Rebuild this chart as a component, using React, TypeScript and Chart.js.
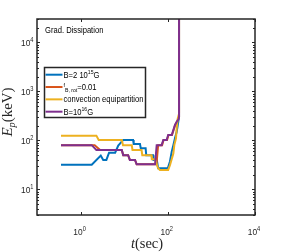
import React, { useEffect, useRef } from "react";
import { Chart, registerables } from "chart.js";

Chart.register(...registerables);

// ---- data (t in sec, Ep in keV) ----
const blueT = [0.355, 1.8, 2.9, 3.3, 3.9, 4.5, 6.2, 7.3, 9.5, 16, 16.5, 23, 24, 31, 32, 46, 47, 56, 60, 100, 112, 123, 134, 146, 160, 174, 181, 181];
const blueE = [32, 32, 49, 40, 40, 56, 56, 78, 102, 102, 84, 84, 69, 69, 50, 50, 40, 40, 27, 27, 37, 59, 80, 110, 150, 240, 300, 30000];

const orangeT = [0.355, 2.1, 2.8, 8.8, 9.5, 12.3, 13.5, 17.7, 19.3, 55, 60, 74, 80, 96, 104, 125, 136, 148, 162, 176, 181, 181];
const orangeE = [80, 80, 63.5, 63.5, 50, 50, 40, 40, 32.5, 32.5, 80, 80, 102, 102, 129, 129, 163, 206, 240, 280, 300, 30000];

const yellowT = [0.355, 2.3, 2.6, 8.8, 9.4, 14.9, 15.5, 25, 26, 42, 43, 51, 60, 66, 102, 112, 134, 141, 154, 160, 169, 181, 181];
const yellowE = [125, 125, 102, 102, 80, 80, 63.5, 63.5, 50, 50, 41, 41, 27, 25, 25, 31, 54, 80, 110, 176, 282, 350, 30000];

const purpleT = [0.355, 1.8, 2.3, 8.8, 9.5, 12.3, 13.5, 17.7, 19.3, 51, 55.6, 72, 79, 94, 102, 123, 134, 146, 160, 176, 181, 181];
const purpleE = [80, 80, 63.5, 63.5, 50, 50, 40, 40, 32.5, 32.5, 80, 80, 102, 102, 129, 129, 163, 206, 240, 270, 300, 30000];

const seriesColors = ["#0072BD", "#D95319", "#EDB120", "#7E2F8E"];

type Seg = { t: string; k?: "sup" | "sub"; it?: boolean };
const legendLabels: Seg[][] = [
  [{ t: "B=2 10" }, { t: "15", k: "sup" }, { t: "G" }],
  [{ t: "f", k: "sup" }, { t: "B, rot", k: "sub" }, { t: "=0.01" }],
  [{ t: "convection equipartition" }],
  [{ t: "B=10" }, { t: "16", k: "sup" }, { t: "G" }],
];
const titleText = "Grad. Dissipation";

const xTickValues = [1, 100, 10000];
const xTickExps = ["0", "2", "4"];
const yTickValues = [10, 100, 1000, 10000];
const yTickExps = ["1", "2", "3", "4"];
const xMin = 0.1, xMax = 1e4, yMin = 3, yMax = 3e4;

const SANS = "'Liberation Sans', Arial, Helvetica, sans-serif";
const SERIF = "'Liberation Serif', 'DejaVu Serif', serif";

function drawRich(
  ctx: CanvasRenderingContext2D, segs: Seg[], x: number, y: number, size: number,
  family: string, align: "left" | "right" | "center", sx: number, color: string
) {
  const fontFor = (s: Seg) => {
    const sz = s.k ? size * 0.68 : size;
    return `${s.it ? "italic " : ""}${sz}px ${family}`;
  };
  ctx.save();
  ctx.translate(x, y);
  ctx.scale(sx, 1);
  ctx.fillStyle = color;
  ctx.textBaseline = "alphabetic";
  ctx.textAlign = "left";
  const widths = segs.map((s) => { ctx.font = fontFor(s); return ctx.measureText(s.t).width; });
  const w = widths.reduce((a, b) => a + b, 0);
  let cx = align === "left" ? 0 : align === "right" ? -w : -w / 2;
  segs.forEach((s, i) => {
    ctx.font = fontFor(s);
    const dy = s.k === "sup" ? -size * 0.42 : s.k === "sub" ? size * 0.22 : 0;
    ctx.fillText(s.t, cx, dy);
    cx += widths[i];
  });
  ctx.restore();
}

const matlabPlugin = {
  id: "matlabDecor",
  afterDatasetsDraw(chart: any) {
    const ctx: CanvasRenderingContext2D = chart.ctx;
    const { left, right, top, bottom } = chart.chartArea;
    const xs = chart.scales.x, ys = chart.scales.y;
    const axisColor = "#262626";
    ctx.save();
    // ticks
    ctx.strokeStyle = axisColor;
    ctx.lineWidth = 1;
    for (let k = 0; k <= 4; k++) {
      for (let m = 1; m <= 9; m++) {
        const v = m * Math.pow(10, k);
        if (v < yMin || v > yMax) continue;
        const py = Math.round(ys.getPixelForValue(v)) + 0.5;
        const len = m === 1 ? 3 : 2;
        ctx.beginPath();
        ctx.moveTo(left, py); ctx.lineTo(left + len, py);
        ctx.moveTo(right, py); ctx.lineTo(right - len, py);
        ctx.stroke();
      }
    }
    xTickValues.forEach((v) => {
      const px = Math.round(xs.getPixelForValue(v)) + 0.5;
      ctx.beginPath();
      ctx.moveTo(px, bottom); ctx.lineTo(px, bottom - 3);
      ctx.moveTo(px, top); ctx.lineTo(px, top + 3);
      ctx.stroke();
    });
    // box
    ctx.lineWidth = 1.5;
    ctx.strokeRect(left, top, right - left, bottom - top);

    // tick labels
    const tfs = 9.5;
    yTickValues.forEach((v, i) => {
      const py = ys.getPixelForValue(v);
      drawRich(ctx, [{ t: "10" }, { t: yTickExps[i], k: "sup" }], left - 3.5, py + tfs * 0.36, tfs, SANS, "right", 0.88, axisColor);
    });
    xTickValues.forEach((v, i) => {
      const px = xs.getPixelForValue(v);
      drawRich(ctx, [{ t: "10" }, { t: xTickExps[i], k: "sup" }], px - 1, bottom + 19.5, tfs, SANS, "center", 0.88, axisColor);
    });

    // axis labels
    drawRich(ctx, [{ t: "t", it: true }, { t: "(sec)" }], 147, 247.5, 14.5, SERIF, "center", 1, axisColor);
    ctx.save();
    ctx.translate(12, 112);
    ctx.rotate(-Math.PI / 2);
    drawRich(ctx, [{ t: "E", it: true }, { t: "p", it: true, k: "sub" }, { t: "(keV)" }], 0, 0, 15, SERIF, "center", 1, axisColor);
    ctx.restore();

    // title text
    drawRich(ctx, [{ t: titleText }], 45, 33, 8.2, SANS, "left", 0.93, "#000");

    // legend
    const lx = 44.5, ly = 67.5, lw = 101, lh = 50;
    ctx.fillStyle = "#ffffff";
    ctx.fillRect(lx, ly, lw, lh);
    ctx.strokeStyle = axisColor;
    ctx.lineWidth = 1.5;
    ctx.strokeRect(lx, ly, lw, lh);
    legendLabels.forEach((segs, i) => {
      const ry = 74.7 + i * 12.33;
      ctx.strokeStyle = seriesColors[i];
      ctx.lineWidth = 2;
      ctx.beginPath();
      ctx.moveTo(45.5, ry); ctx.lineTo(62.5, ry);
      ctx.stroke();
      drawRich(ctx, segs, 63.5, ry + 3, 8.2, SANS, "left", 0.93, "#000");
    });
    ctx.restore();
  },
};

function pts(t: number[], e: number[]) {
  return t.map((v, i) => ({ x: v, y: e[i] }));
}

export default function App() {
  const ref = useRef<HTMLCanvasElement | null>(null);
  useEffect(() => {
    if (!ref.current) return;
    const mk = (t: number[], e: number[], c: string, order: number) => ({
      data: pts(t, e),
      borderColor: c,
      backgroundColor: c,
      borderWidth: 2,
      pointRadius: 0,
      fill: false,
      tension: 0,
      order,
    });
    const chart = new Chart(ref.current, {
      type: "line",
      data: {
        datasets: [
          mk(blueT, blueE, seriesColors[0], 3),
          mk(orangeT, orangeE, seriesColors[1], 2),
          mk(yellowT, yellowE, seriesColors[2], 1),
          mk(purpleT, purpleE, seriesColors[3], 0),
        ],
      },
      options: {
        responsive: false,
        animation: false,
        devicePixelRatio: 1,
        layout: { padding: { left: 37, right: 27, top: 19, bottom: 37 } },
        plugins: { legend: { display: false }, tooltip: { enabled: false }, title: { display: false } },
        scales: {
          x: { type: "logarithmic", min: xMin, max: xMax, display: false },
          y: { type: "logarithmic", min: yMin, max: yMax, display: false },
        },
      },
      plugins: [matlabPlugin],
    } as any);
    return () => chart.destroy();
  }, []);
  return (
    <div style={{ position: "fixed", left: 0, top: 0, width: 282, height: 252, background: "#fff" }}>
      <canvas ref={ref} width={282} height={252} style={{ display: "block" }} />
    </div>
  );
}
